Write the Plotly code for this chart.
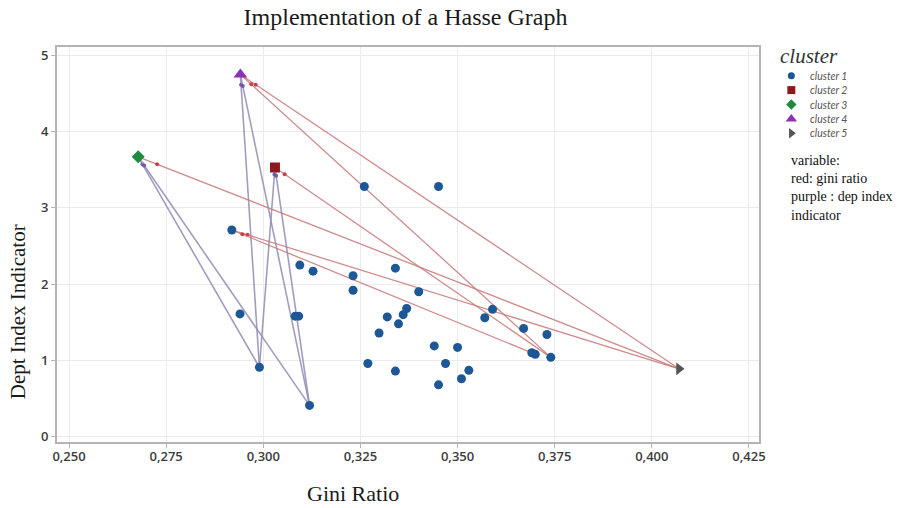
import plotly.graph_objects as go

# ---------------- data ----------------
c1_gini = [0.3260, 0.3451, 0.2919, 0.3094, 0.3128, 0.3231, 0.3231, 0.3340, 0.3400,
           0.2940, 0.3082, 0.3091, 0.3369, 0.3360, 0.3319, 0.3348, 0.3298, 0.3590,
           0.3570, 0.3670, 0.3730, 0.3691, 0.3700, 0.3740, 0.3440, 0.3500, 0.3269,
           0.3340, 0.3469, 0.3529, 0.3510, 0.3451, 0.2990, 0.3119]
c1_dep = [3.28, 3.28, 2.71, 2.25, 2.17, 2.11, 1.92, 2.21, 1.90,
          1.61, 1.58, 1.58, 1.68, 1.60, 1.57, 1.48, 1.36, 1.67,
          1.56, 1.42, 1.34, 1.10, 1.08, 1.04, 1.19, 1.17, 0.96,
          0.86, 0.96, 0.87, 0.76, 0.68, 0.91, 0.41]
c2_gini, c2_dep = [0.3030], [3.53]
c3_gini, c3_dep = [0.2678], [3.67]
c4_gini, c4_dep = [0.2941], [4.75]
c5_gini, c5_dep = [0.4070], [0.89]

cluster_names = ["cluster 1", "cluster 2", "cluster 3", "cluster 4", "cluster 5"]

# Hasse edges: (cluster, index) -> (cluster, index)
red_edges = [((4, 0), (5, 0)), ((4, 0), (1, 23)), ((2, 0), (1, 23)),
             ((3, 0), (5, 0)), ((1, 2), (5, 0)), ((1, 2), (1, 21))]
purple_edges = [((4, 0), (1, 32)), ((4, 0), (1, 33)), ((2, 0), (1, 32)),
                ((2, 0), (1, 33)), ((3, 0), (1, 32)), ((3, 0), (1, 33))]

x_ticks = [0.250, 0.275, 0.300, 0.325, 0.350, 0.375, 0.400, 0.425]
y_ticks = [0, 1, 2, 3, 4, 5]

# ---------------- figure ----------------
clusters = {1: (c1_gini, c1_dep), 2: (c2_gini, c2_dep), 3: (c3_gini, c3_dep),
            4: (c4_gini, c4_dep), 5: (c5_gini, c5_dep)}

def pt(node):
    c, i = node
    return clusters[c][0][i], clusters[c][1][i]

fig = go.Figure()

def add_edges(edges, color, dot_color, width):
    for a, b in edges:
        x0, y0 = pt(a)
        x1, y1 = pt(b)
        fig.add_trace(go.Scatter(x=[x0, x1], y=[y0, y1], mode="lines",
                                 line=dict(color=color, width=width),
                                 showlegend=False, hoverinfo="skip"))
        f = 0.035
        fig.add_trace(go.Scatter(x=[x0 + f * (x1 - x0)], y=[y0 + f * (y1 - y0)],
                                 mode="markers",
                                 marker=dict(color=dot_color, size=4),
                                 showlegend=False, hoverinfo="skip"))

add_edges(purple_edges, "rgba(145,140,180,0.85)", "rgba(110,80,170,0.9)", 1.6)
add_edges(red_edges, "rgba(198,120,120,0.85)", "rgba(200,50,60,0.9)", 1.3)

styles = {
    1: dict(symbol="circle", color="#1d5796", size=9),
    2: dict(symbol="square", color="#8b1a1e", size=10),
    3: dict(symbol="diamond", color="#1e8a3c", size=10),
    4: dict(symbol="triangle-up", color="#8c30b8", size=12),
    5: dict(symbol="triangle-right", color="#555555", size=11),
}
for k in range(1, 6):
    gx, gy = clusters[k]
    fig.add_trace(go.Scatter(x=gx, y=gy, mode="markers", name=cluster_names[k - 1],
                             showlegend=False,
                             marker=dict(symbol=styles[k]["symbol"], color=styles[k]["color"],
                                         size=styles[k]["size"], line=dict(width=0))))

# ---- compact legend drawn on a hidden overlay axis (pixel-like units) ----
LEG_X0, LEG_X1, PLOT_TOP, PLOT_BOT = 771, 917, 47, 442
leg_sym_x, leg_txt_x, leg_top, leg_step = 796.5, 813, 75.7, 14.4
annotations = []
for k in range(1, 6):
    yy = leg_top + (k - 1) * leg_step
    fig.add_trace(go.Scatter(x=[leg_sym_x], y=[yy], xaxis="x2", yaxis="y2", mode="markers",
                             showlegend=False, hoverinfo="skip",
                             marker=dict(symbol=styles[k]["symbol"], color=styles[k]["color"],
                                         size=styles[k]["size"] - 2, line=dict(width=0))))
    annotations.append(dict(text=cluster_names[k - 1], x=leg_txt_x, y=yy, xref="x2", yref="y2",
                            xanchor="left", yanchor="middle", showarrow=False,
                            font=dict(family="Lato", size=10.5, color="#555", style="italic")))

W, H, ML, MT, MB = 917, 508, 57, 47, 66
PW = W - ML               # plot-region width (right margin 0)
main_right = (764 - ML) / PW

def px(page_x):
    return (page_x - ML) / PW

def py(page_y):
    return (PLOT_BOT - page_y) / (PLOT_BOT - PLOT_TOP)

tick_font = dict(family="Open Sans", size=13, color="#3c3c3c", weight=600)
axis_common = dict(showgrid=True, gridcolor="#ececec", gridwidth=1, zeroline=False,
                   showline=True, linecolor="#b4b4b4", linewidth=2, mirror=True,
                   ticks="outside", ticklen=4, tickcolor="#b4b4b4", tickfont=tick_font)

serif = "Liberation Serif"
annotations += [
    dict(text="cluster", x=px(783), y=py(56), xref="paper", yref="paper",
         xanchor="left", yanchor="middle", showarrow=False,
         font=dict(family=serif, size=21, color="#333", style="italic")),
    dict(text="Gini Ratio", x=px(355), y=py(493), xref="paper", yref="paper",
         xanchor="center", yanchor="middle", showarrow=False,
         font=dict(family=serif, size=22, color="#1a1a1a")),
    dict(text="Dept Index Indicator", x=px(18), y=py(312), xref="paper",
         yref="paper", textangle=-90, xanchor="center", yanchor="middle",
         showarrow=False, font=dict(family=serif, size=21, color="#1a1a1a")),
    dict(text="variable:<br>red: gini ratio<br>purple : dep index<br>indicator",
         x=px(794), y=py(151), xref="paper", yref="paper",
         xanchor="left", yanchor="top", align="left", showarrow=False,
         font=dict(family=serif, size=14, color="#111")),
]

fig.update_layout(
    width=W, height=H,
    margin=dict(l=ML, r=0, t=MT, b=MB),
    paper_bgcolor="white", plot_bgcolor="white",
    separators=",.",
    showlegend=False,
    xaxis=dict(domain=[0, main_right], range=[0.2469, 0.4276], tickvals=x_ticks,
               tickformat=".3f", ticklabelstandoff=-3, **axis_common),
    yaxis=dict(domain=[0, 1], range=[-0.07, 5.11], tickvals=y_ticks, tickformat="d",
               **axis_common),
    xaxis2=dict(domain=[px(LEG_X0), 1], range=[LEG_X0, LEG_X1], visible=False,
                fixedrange=True),
    yaxis2=dict(domain=[0, 1], range=[PLOT_BOT, PLOT_TOP], visible=False,
                fixedrange=True, anchor="x2"),
    title=dict(text="Implementation of a Hasse Graph", x=px(408), xref="paper",
               y=1 - 17 / H, yref="container", xanchor="center", yanchor="middle",
               font=dict(family=serif, size=24, color="#1a1a1a")),
    annotations=annotations,
)

fig.write_html("out.html", config={"displayModeBar": False},
               post_script="document.body.style.margin='0';")
